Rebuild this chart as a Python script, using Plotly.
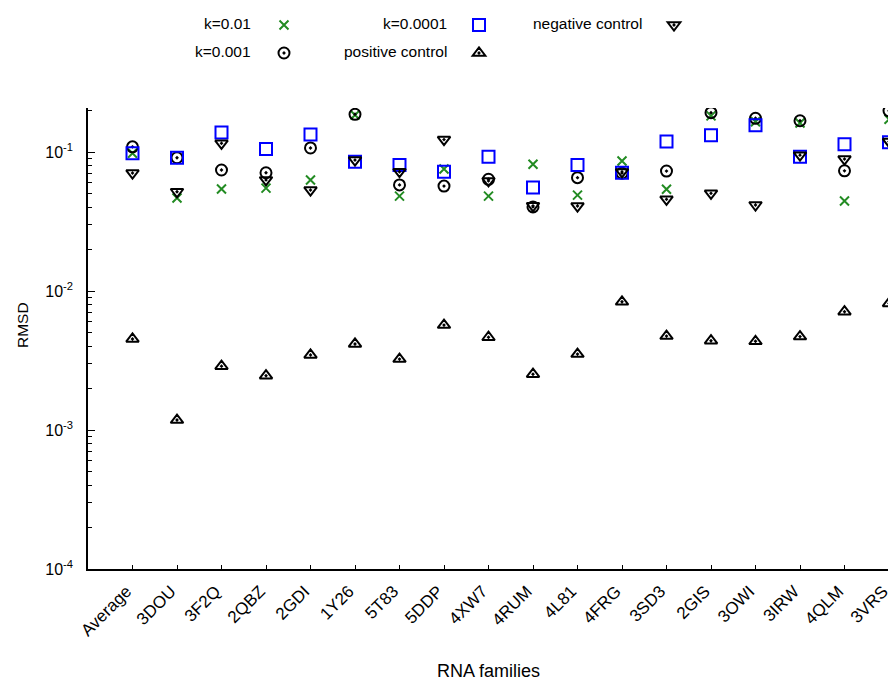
import plotly.graph_objects as go

categories = ["Average", "3DOU", "3F2Q", "2QBZ", "2GDI", "1Y26", "5T83", "5DDP", "4XW7",
              "4RUM", "4L81", "4FRG", "3SD3", "2GIS", "3OWI", "3IRW", "4QLM", "3VRS"]

k_0_01 = [0.098, 0.0467, 0.0542, 0.055, 0.063, 0.185, 0.0482, 0.0755, 0.0482,
          0.0816, 0.049, 0.0862, 0.054, 0.182, 0.165, 0.162, 0.0444, 0.172]
k_0_001 = [0.109, 0.091, 0.0743, 0.071, 0.107, 0.187, 0.058, 0.0569, 0.0637,
           0.0403, 0.0654, 0.0705, 0.073, 0.192, 0.175, 0.168, 0.0733, 0.198]
k_0_0001 = [0.098, 0.091, 0.138, 0.105, 0.134, 0.0852, 0.0806, 0.0722, 0.0925,
            0.0557, 0.0806, 0.071, 0.119, 0.132, 0.156, 0.0925, 0.1136, 0.1175]
positive_control = [0.00452, 0.00118, 0.00288, 0.00246, 0.00347, 0.00416, 0.00324, 0.00569, 0.00465,
                    0.00252, 0.00352, 0.00837, 0.00474, 0.00439, 0.00435, 0.0047, 0.0071, 0.00815]
negative_control = [0.0706, 0.0518, 0.1156, 0.063, 0.0533, 0.0876, 0.0722, 0.123, 0.062,
                    0.041, 0.0409, 0.072, 0.0457, 0.0505, 0.0416, 0.095, 0.089, 0.119]

y_tickvals = [1e-4, 1e-3, 1e-2, 1e-1]
y_ticktext = ["10<sup>-4</sup>", "10<sup>-3</sup>", "10<sup>-2</sup>", "10<sup>-1</sup>"]

FONT = "Liberation Sans, Arial, sans-serif"
FS = 15.5

series = [
    ("k=0.01", k_0_01, dict(symbol="x-thin-open", size=9, color="#228B22",
                             line=dict(color="#228B22", width=2))),
    ("k=0.001", k_0_001, dict(symbol="circle-open-dot", size=11, color="black",
                               line=dict(color="black", width=2))),
    ("k=0.0001", k_0_0001, dict(symbol="square-open", size=12, color="#0000FF",
                                 line=dict(color="#0000FF", width=2))),
    ("positive control", positive_control, dict(symbol="triangle-up-open-dot", size=11, color="black",
                                                line=dict(color="black", width=2))),
    ("negative control", negative_control, dict(symbol="triangle-down-open-dot", size=11, color="black",
                                                line=dict(color="black", width=2))),
]

# page body has an 8px margin: lay out in screen pixels, then convert
OFF = 8
L, R, T, B = 80, 15, 100, 120
W, H = 896 - L - R, 681 - T - B
def px_x(x):
    return (x - OFF - L) / W
def px_y(y):
    return (681 - B - (y - OFF)) / H

# (symbol centre x, row y, text right edge x)
legend_pos = {
    "k=0.01": (283, 24, 253),
    "k=0.001": (283, 52, 253),
    "k=0.0001": (478, 24, 449),
    "positive control": (478, 52, 449),
    "negative control": (673, 24, 644),
}
SYM_OFF = 19  # symbol centre distance from legend box left edge

fig = go.Figure()
annotations = []
legends = {}
for i, (name, vals, marker) in enumerate(series):
    fig.add_trace(go.Scatter(x=categories, y=vals, mode="markers", name=name,
                             marker=marker, showlegend=False))
    lkey = "legend" if i == 0 else f"legend{i+1}"
    fig.add_trace(go.Scatter(x=[None], y=[None], mode="markers", name="",
                             marker=marker, showlegend=True, legend=lkey,
                             hoverinfo="skip"))
    sx, sy, tx = legend_pos[name]
    legends[lkey] = dict(x=px_x(sx - SYM_OFF), y=px_y(sy + 1), xanchor="left", yanchor="middle",
                         bgcolor="rgba(0,0,0,0)", borderwidth=0,
                         font=dict(family=FONT, size=8, color="black"))
    annotations.append(dict(x=px_x(tx), y=px_y(sy), xref="paper", yref="paper",
                            xanchor="right", yanchor="middle", showarrow=False,
                            text=name, font=dict(family=FONT, size=FS, color="black")))

annotations.append(dict(x=px_x(22), y=px_y(325), xref="paper", yref="paper",
                        xanchor="center", yanchor="middle", showarrow=False, textangle=-90,
                        text="RMSD", font=dict(family=FONT, size=FS, color="black")))
annotations.append(dict(x=px_x(488), y=px_y(671), xref="paper", yref="paper",
                        xanchor="center", yanchor="middle", showarrow=False,
                        text="RNA families", font=dict(family=FONT, size=18, color="black")))

fig.update_layout(
    width=896, height=681,
    margin=dict(l=L, r=R, t=T, b=B, autoexpand=False),
    paper_bgcolor="white", plot_bgcolor="white",
    font=dict(family=FONT, size=FS, color="black"),
    annotations=annotations,
    **legends,
)
fig.update_xaxes(type="category", categoryorder="array", categoryarray=categories,
                 range=[-1, 17], showline=True, linecolor="black", linewidth=1.5,
                 ticks="inside", ticklen=4, tickcolor="black", tickangle=-45,
                 ticklabelshift=-6, ticklabelstandoff=4,
                 showgrid=False, zeroline=False, tickfont=dict(family=FONT, size=17))
fig.update_yaxes(type="log", range=[-4, -0.683], tickmode="array", tickvals=y_tickvals,
                 ticktext=y_ticktext, showline=True, linecolor="black", linewidth=1.5,
                 ticks="inside", ticklen=7, tickcolor="black", showgrid=False, zeroline=False,
                 tickfont=dict(family=FONT, size=16), ticklabelstandoff=10,
                 minor=dict(ticks="inside", ticklen=4, tickcolor="black", dtick="D1", showgrid=False))

fig.write_html("out.html")
